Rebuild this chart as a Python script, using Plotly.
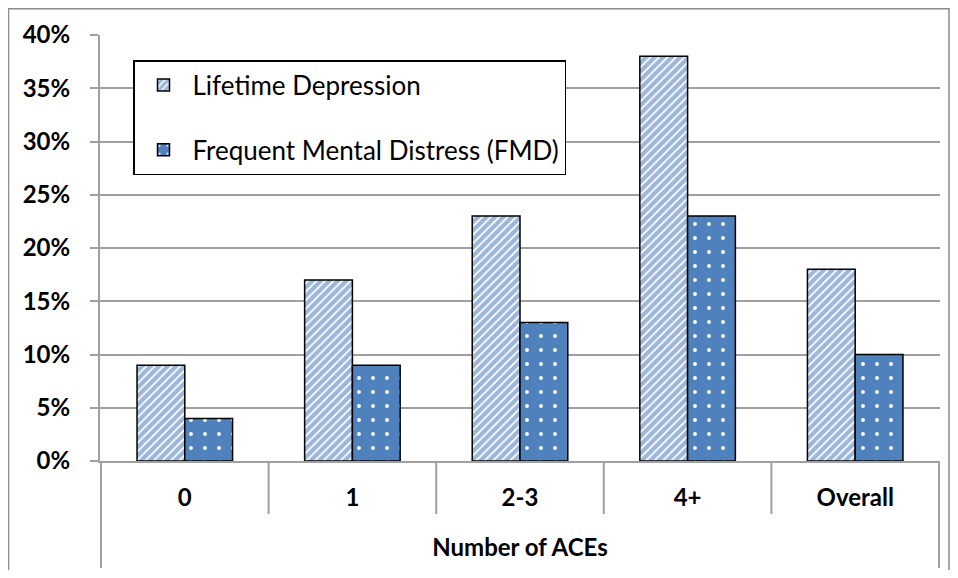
import plotly.graph_objects as go

categories = ["0", "1", "2-3", "4+", "Overall"]
lifetime_depression = [0.09, 0.17, 0.23, 0.38, 0.18]
fmd = [0.04, 0.09, 0.13, 0.23, 0.10]
series_names = ["Lifetime Depression", "Frequent Mental Distress (FMD)"]
y_ticks = [0, 0.05, 0.10, 0.15, 0.20, 0.25, 0.30, 0.35, 0.40]
x_title = "Number of ACEs"

BLUE = "#4F81BD"
STRIPE = "#3A6EB3"
GRID = "#A0A0A0"
FONT = "Lato, Carlito, Calibri, sans-serif"

# page is offset by the 8px body margin of the html page
OFF = 8
W, H = 942, 562
L, T = 92, 27
PW, PH = 840, 426
R = W - L - PW
B = H - T - PH

def px_x(p):  # page pixel -> paper x
    return (p - OFF - L) / PW

def px_y(p):  # page pixel -> paper y
    return (T + PH - (p - OFF)) / PH

fig = go.Figure()
fig.add_trace(go.Bar(
    x=categories, y=lifetime_depression, name=series_names[0],
    legendgroup="a",
    marker=dict(color="white",
                line=dict(color="black", width=1.5),
                pattern=dict(shape="/", fgcolor=STRIPE, bgcolor="white",
                             size=6, solidity=0.7, fillmode="overlay")),
))
fig.add_trace(go.Bar(
    x=categories, y=fmd, name=series_names[1],
    legendgroup="b",
    marker=dict(color=BLUE,
                line=dict(color="black", width=1.5),
                pattern=dict(shape=".", fgcolor="white", bgcolor=BLUE,
                             size=14, solidity=0.06, fillmode="replace")),
))

shapes = []
for i in range(len(categories) + 1):
    outer = i == 0 or i == len(categories)
    shapes.append(dict(type="line", xref="x", yref="paper",
                       x0=i - 0.5, x1=i - 0.5, y0=0,
                       y1=px_y(568) if outer else px_y(514),
                       line=dict(color=GRID, width=2)))
shapes.append(dict(type="rect", xref="paper", yref="paper",
                   x0=px_x(8.5), x1=px_x(949), y0=px_y(600), y1=px_y(8.8),
                   line=dict(color="#8C8C8C", width=1.5),
                   fillcolor="rgba(0,0,0,0)", layer="below"))

fig.update_layout(
    width=W, height=H,
    margin=dict(l=L, r=R, t=T, b=B, autoexpand=False),
    paper_bgcolor="white", plot_bgcolor="white",
    barmode="group", bargap=0.43, bargroupgap=0,
    font=dict(family=FONT, color="black"),
    showlegend=True,
    legend=dict(x=px_x(133), y=px_y(60), xanchor="left", yanchor="top",
                bgcolor="white", bordercolor="black", borderwidth=1.5,
                font=dict(size=26, family=FONT), tracegroupgap=28,
                itemwidth=48, traceorder="grouped"),
    shapes=shapes,
    xaxis=dict(type="category", showline=True, linecolor=GRID, linewidth=2,
               ticks="", showgrid=False,
               tickfont=dict(size=24, family=FONT, weight="bold"),
               ticklabelstandoff=14,
               title=dict(text="<b>" + x_title + "</b>", font=dict(size=24, family=FONT),
                          standoff=29)),
    yaxis=dict(range=[0, 0.4], tickvals=y_ticks, tickformat=".0%",
               showline=True, linecolor=GRID, linewidth=2,
               ticks="outside", ticklen=8, tickcolor=GRID, tickwidth=2,
               showgrid=True, gridcolor=GRID, gridwidth=2, zeroline=False,
               tickfont=dict(size=24, family=FONT, weight="bold"),
               ticklabelstandoff=15),
)

fig.write_html("out.html")
